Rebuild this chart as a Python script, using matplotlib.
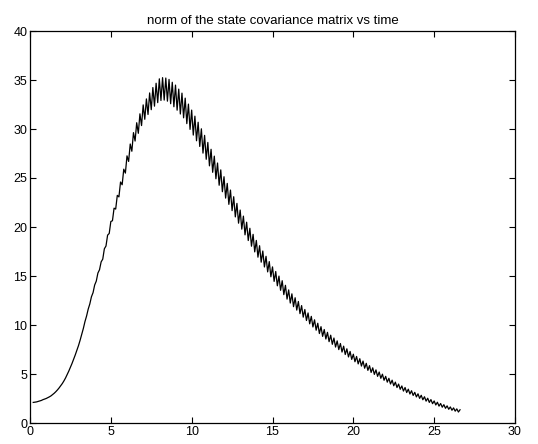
import numpy as np
import matplotlib
matplotlib.use("Agg")
import matplotlib.pyplot as plt

# norm of the state covariance, sampled every 0.1 s starting at t = 0.2
# (alternating predicted / updated values -> saw-tooth once the oscillation grows)
T_START = 0.2
T_STEP = 0.1
NORM_VALUES = [
    2.10, 2.12, 2.15, 2.20, 2.25, 2.30, 2.38, 2.44,
    2.50, 2.58, 2.67, 2.77, 2.90, 3.04, 3.20, 3.38, 3.58, 3.80,
    4.03, 4.30, 4.60, 4.95, 5.30, 5.68, 6.08, 6.50, 6.95, 7.42,
    7.90, 8.45, 9.05, 9.65, 10.35, 10.92, 11.62, 12.15, 12.88, 13.30,
    14.08, 14.48, 15.30, 15.64, 16.44, 16.72, 17.78, 18.06, 19.17, 19.34,
    20.56, 20.64, 21.92, 21.83, 23.23, 23.07, 24.59, 24.31, 25.90, 25.50,
    27.26, 26.69, 28.47, 27.73, 29.63, 28.77, 30.64, 29.56, 31.55, 30.35,
    32.46, 30.99, 33.07, 31.48, 33.68, 31.97, 34.23, 32.33, 34.67, 32.69,
    35.12, 32.91, 35.24, 32.95, 35.20, 32.84, 35.06, 32.58, 34.77, 32.27,
    34.48, 31.92, 34.07, 31.53, 33.66, 31.14, 33.15, 30.55, 32.54, 29.96,
    31.93, 29.38, 31.31, 28.80, 30.69, 28.22, 30.02, 27.54, 29.35, 26.91,
    28.63, 26.24, 27.93, 25.58, 27.23, 24.92, 26.53, 24.26, 25.83, 23.60,
    25.13, 22.95, 24.45, 22.31, 23.77, 21.67, 23.09, 21.03, 22.41, 20.39,
    21.73, 19.78, 21.11, 19.20, 20.49, 18.62, 19.87, 18.04, 19.25, 17.46,
    18.63, 16.92, 18.09, 16.41, 17.55, 15.92, 17.01, 15.42, 16.47, 14.92,
    15.93, 14.45, 15.46, 14.00, 14.99, 13.54, 14.52, 13.10, 14.05, 12.64,
    13.58, 12.24, 13.18, 11.87, 12.78, 11.52, 12.40, 11.16, 11.98, 10.80,
    11.58, 10.46, 11.23, 10.12, 10.88, 9.80, 10.53, 9.47, 10.18, 9.13,
    9.83, 8.84, 9.54, 8.57, 9.25, 8.30, 8.96, 8.03, 8.67, 7.75,
    8.38, 7.49, 8.11, 7.24, 7.84, 6.99, 7.57, 6.74, 7.30, 6.49,
    7.02, 6.25, 6.79, 6.03, 6.56, 5.81, 6.32, 5.59, 6.09, 5.37,
    5.85, 5.16, 5.63, 4.96, 5.42, 4.76, 5.20, 4.56, 4.98, 4.36,
    4.76, 4.17, 4.56, 3.98, 4.37, 3.80, 4.17, 3.62, 3.97, 3.44,
    3.78, 3.26, 3.62, 3.11, 3.45, 2.96, 3.29, 2.81, 3.13, 2.66,
    2.98, 2.51, 2.83, 2.37, 2.68, 2.23, 2.53, 2.10, 2.39, 1.97,
    2.25, 1.84, 2.12, 1.72, 1.99, 1.61, 1.87, 1.50, 1.75, 1.40,
    1.64, 1.30, 1.54, 1.21, 1.44, 1.12, 1.35,
]
X_TICKS = [0, 5, 10, 15, 20, 25, 30]
Y_TICKS = [0, 5, 10, 15, 20, 25, 30, 35, 40]
TITLE = "norm of the state covariance matrix vs time"

values = np.array(NORM_VALUES)
times = T_START + T_STEP * np.arange(len(values))

plt.rcParams['font.family'] = ['Liberation Sans', 'DejaVu Sans']

fig = plt.figure(figsize=(5.38, 4.44), dpi=100)
ax = fig.add_axes([30 / 538, 21 / 444, 485 / 538, 392 / 444])
ax.plot(times, values, color='black', linewidth=0.9)

ax.set_xlim(0, 30)
ax.set_ylim(0, 40)
ax.set_xticks(X_TICKS)
ax.set_yticks(Y_TICKS)
ax.tick_params(direction='in', top=True, right=True, length=4, width=0.8,
               labelsize=9, pad=2)
for spine in ax.spines.values():
    spine.set_linewidth(0.9)
ax.set_title(TITLE, fontsize=9.5, pad=5)

fig.savefig("out.png", dpi=100)
